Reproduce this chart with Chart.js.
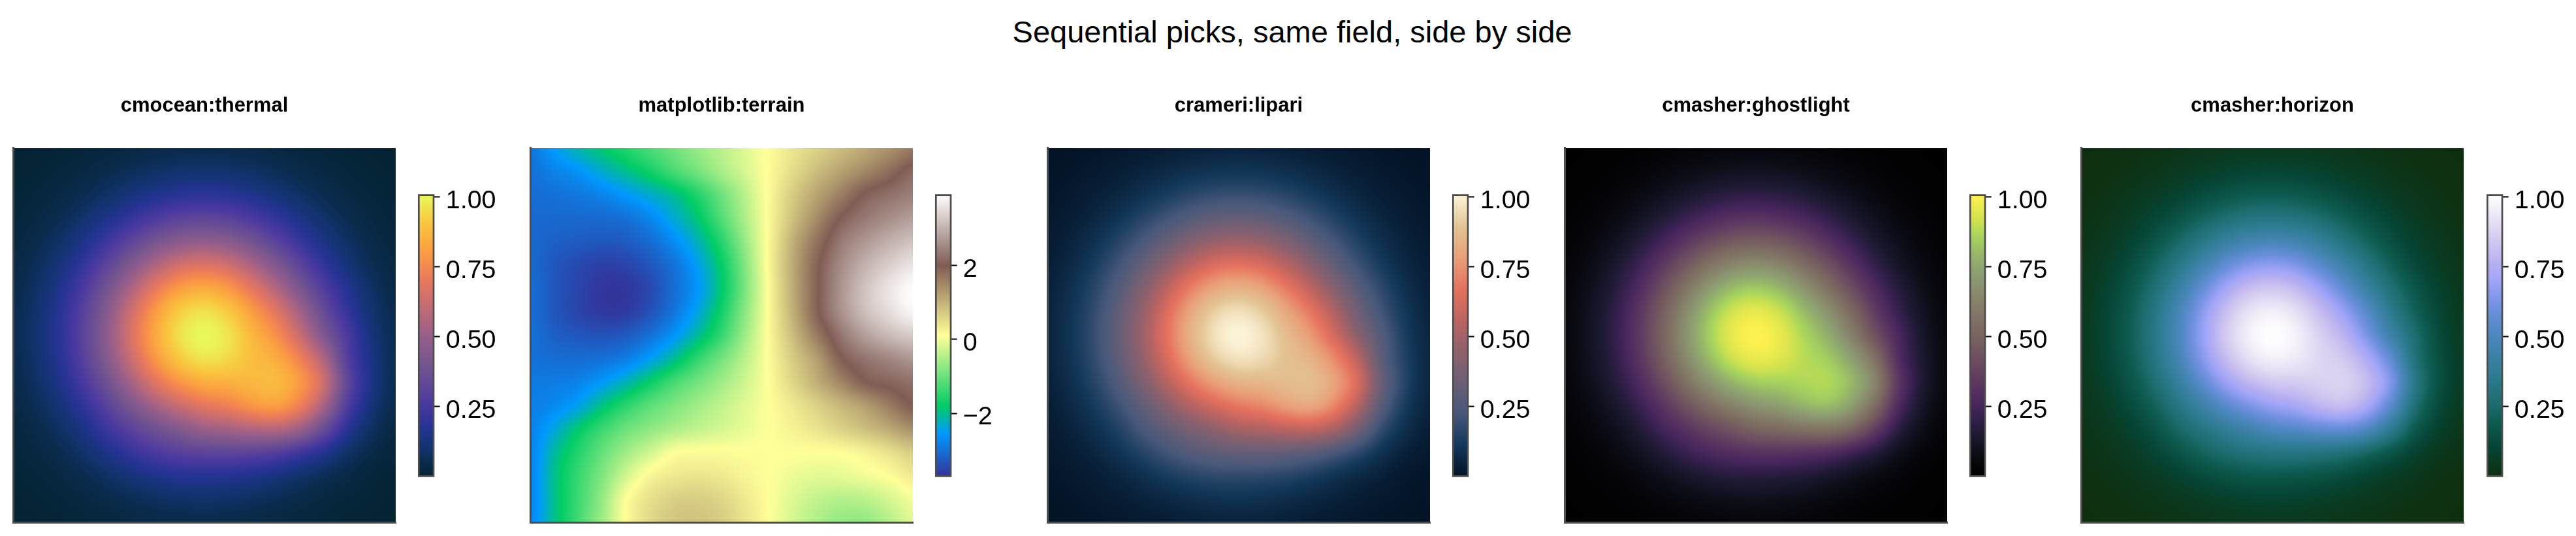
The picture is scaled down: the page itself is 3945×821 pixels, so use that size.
<!DOCTYPE html>
<html>
<head>
<meta charset="utf-8">
<title>Sequential picks, same field, side by side</title>
<script src="https://cdn.jsdelivr.net/npm/chart.js@4"></script>
<style>
  html, body { margin: 0; padding: 0; background: #fff; width: 3945px; height: 821px; overflow: hidden; }
  canvas { position: absolute; top: 0; }
  #suptitle { position: absolute; left: 1979px; top: 25px; transform: translateX(-50%); white-space: nowrap;
    font: 47px/47px "Liberation Sans", Arial, sans-serif; color: #000; }
</style>
</head>
<body>
<div id="suptitle">Sequential picks, same field, side by side</div>
<script>
// Positions of the field samples along each axis of a panel.
const gridNodes = [0, .0625, .125, .1875, .25, .3125, .375, .4375, .5, .5625, .625, .6875, .75, .8125, .875, .9375, 1];

// Normalised field shown by four of the panels (rows run top to bottom).
const unitField = [
  [.003,.006,.010,.017,.026,.036,.045,.051,.053,.050,.043,.034,.024,.016,.009,.005,.003],
  [.006,.011,.021,.034,.052,.071,.089,.102,.106,.101,.087,.068,.049,.032,.019,.010,.005],
  [.010,.021,.038,.062,.094,.130,.163,.186,.193,.183,.158,.124,.089,.058,.034,.019,.009],
  [.017,.034,.062,.104,.157,.216,.270,.309,.321,.304,.262,.206,.148,.096,.057,.031,.015],
  [.026,.052,.094,.157,.237,.326,.409,.466,.485,.460,.396,.311,.223,.145,.086,.047,.023],
  [.036,.071,.130,.216,.326,.449,.562,.642,.668,.633,.546,.436,.316,.205,.121,.064,.032],
  [.045,.089,.163,.270,.409,.562,.705,.805,.837,.794,.692,.565,.420,.281,.168,.088,.041],
  [.051,.102,.186,.309,.466,.642,.805,.920,.958,.911,.805,.685,.530,.352,.210,.108,.050],
  [.053,.106,.193,.321,.485,.668,.838,.958,1.003,.962,.868,.770,.620,.432,.260,.126,.057],
  [.050,.101,.183,.304,.460,.633,.794,.910,.962,.940,.885,.840,.730,.552,.288,.141,.060],
  [.043,.087,.158,.262,.396,.546,.685,.786,.843,.855,.868,.872,.793,.625,.325,.148,.059],
  [.034,.068,.124,.206,.312,.429,.539,.624,.689,.725,.782,.805,.720,.535,.274,.121,.050],
  [.024,.049,.089,.148,.235,.312,.385,.449,.507,.533,.563,.573,.510,.357,.181,.084,.034],
  [.016,.032,.058,.100,.155,.215,.265,.300,.318,.322,.313,.291,.237,.169,.093,.044,.019],
  [.009,.019,.034,.057,.090,.125,.155,.175,.177,.173,.160,.134,.101,.068,.042,.017,.008],
  [.005,.010,.019,.031,.047,.064,.081,.092,.096,.091,.079,.063,.046,.030,.018,.010,.005],
  [.003,.005,.009,.015,.023,.032,.040,.045,.047,.045,.038,.030,.022,.014,.008,.005,.002]
];

// Signed field shown by the terrain panel.
const terrainField = [
  [-2.95,-2.53,-2.15,-1.86,-1.55,-1.25,-.97,-.68,-.41,-.13,.14,.40,.65,.88,1.12,1.38,1.65],
  [-3.00,-2.80,-2.62,-2.30,-2.00,-1.68,-1.28,-.93,-.55,-.20,.15,.52,.88,1.20,1.50,1.80,2.15],
  [-3.05,-3.00,-2.92,-2.78,-2.56,-2.30,-2.00,-1.55,-.98,-.40,.17,.72,1.18,1.60,2.05,2.25,2.42],
  [-3.10,-3.10,-3.10,-3.08,-3.00,-2.75,-2.33,-1.86,-1.19,-.50,.18,.85,1.45,2.03,2.35,2.58,2.78],
  [-3.10,-3.20,-3.25,-3.30,-3.25,-3.05,-2.70,-2.20,-1.52,-.65,.20,1.05,1.75,2.35,2.70,2.98,3.20],
  [-3.10,-3.30,-3.45,-3.55,-3.50,-3.30,-2.98,-2.47,-1.76,-.80,.20,1.12,1.92,2.55,3.00,3.33,3.60],
  [-3.05,-3.30,-3.50,-3.66,-3.66,-3.45,-3.05,-2.58,-1.84,-.85,.17,1.10,1.95,2.65,3.20,3.60,3.88],
  [-3.05,-3.30,-3.50,-3.62,-3.60,-3.35,-2.95,-2.40,-1.65,-.75,.17,1.05,1.93,2.62,3.15,3.50,3.80],
  [-3.00,-3.20,-3.30,-3.35,-3.25,-3.00,-2.60,-2.05,-1.40,-.60,.17,.90,1.65,2.30,2.78,3.10,3.30],
  [-3.00,-3.05,-3.05,-3.00,-2.85,-2.50,-2.03,-1.45,-.94,-.40,.15,.72,1.25,1.97,2.30,2.50,2.70],
  [-2.90,-2.88,-2.80,-2.55,-2.20,-1.75,-1.30,-.95,-.60,-.25,.13,.59,1.05,1.52,1.97,2.12,2.25],
  [-2.85,-2.72,-2.45,-1.95,-1.50,-1.13,-.85,-.60,-.37,-.12,.11,.36,.65,.95,1.25,1.62,2.00],
  [-2.80,-2.38,-1.85,-1.38,-1.00,-.74,-.52,-.35,-.20,-.05,.10,.25,.42,.63,.85,1.10,1.40],
  [-2.80,-2.10,-1.55,-1.05,-.60,-.25,.08,.13,.13,.12,.105,.11,.10,.13,.25,.45,.70],
  [-2.80,-2.00,-1.40,-.85,-.25,.20,.35,.40,.35,.22,.10,-.03,-.10,-.08,.00,.12,.35],
  [-2.80,-2.00,-1.35,-.70,.08,.45,.65,.68,.58,.35,.10,-.15,-.35,-.45,-.40,-.22,.02],
  [-2.75,-2.00,-1.30,-.62,.12,.55,.78,.82,.70,.42,.10,-.22,-.50,-.68,-.70,-.45,-.12]
];

const panelTitles = ['cmocean:thermal', 'matplotlib:terrain', 'crameri:lipari', 'cmasher:ghostlight', 'cmasher:horizon'];
const unitTicks = [1, .75, .5, .25];
const terrainTicks = [2, 0, -2];

// Colour ramps as [position, colour] stops.
const thermalStops = [[0,'#042333'],[.05,'#0a2b4c'],[.1,'#12336e'],[.17,'#243392'],[.25,'#47389f'],[.3,'#59429b'],[.4,'#75558f'],[.5,'#985f8a'],[.6,'#c26b75'],[.7,'#e97a5c'],[.75,'#f58a4d'],[.8,'#fa9e41'],[.9,'#f9c63f'],[1,'#e8fa5b']];
const terrainStops = [[0,'#333399'],[.15,'#0099ff'],[.25,'#00cc66'],[.5,'#ffff99'],[.75,'#805c54'],[1,'#ffffff']];
const lipariStops = [[0,'#031326'],[.111,'#13385a'],[.222,'#47587a'],[.333,'#6b5f76'],[.444,'#8e616c'],[.556,'#bc6461'],[.667,'#e5715e'],[.778,'#e9a079'],[.889,'#e3c494'],[1,'#fdf5da']];
const ghostlightStops = [[0,'#000000'],[.05,'#07070c'],[.1,'#111120'],[.15,'#1e1a33'],[.2,'#321f4a'],[.25,'#46265c'],[.3,'#55305f'],[.35,'#5f3c60'],[.4,'#6a4a60'],[.5,'#796460'],[.6,'#847c68'],[.7,'#8c9870'],[.75,'#90a86f'],[.8,'#9abb66'],[.85,'#a5d35f'],[.9,'#c8e050'],[.95,'#e6e84e'],[1,'#fff24f']];
const horizonStops = [[0,'#0e2f0e'],[.1,'#064433'],[.2,'#0f5e54'],[.25,'#1c6b6c'],[.35,'#2b7b8e'],[.5,'#4c87bd'],[.6,'#6f90e0'],[.7,'#a2a5f8'],[.75,'#b4aef0'],[.85,'#d6ccf0'],[.95,'#f2eef8'],[1,'#ffffff']];

const panels = [
  { field: unitField, stops: thermalStops, min: .002, max: 1.006, ticks: unitTicks, digits: 2, plotLeft: 20.4, barLeft: 640 },
  { field: terrainField, stops: terrainStops, min: -3.7, max: 3.91, ticks: terrainTicks, digits: 0, plotLeft: 812.2, barLeft: 1432 },
  { field: unitField, stops: lipariStops, min: .002, max: 1.006, ticks: unitTicks, digits: 2, plotLeft: 1603.9, barLeft: 2224 },
  { field: unitField, stops: ghostlightStops, min: .002, max: 1.006, ticks: unitTicks, digits: 2, plotLeft: 2395.6, barLeft: 3015.5 },
  { field: unitField, stops: horizonStops, min: .002, max: 1.006, ticks: unitTicks, digits: 2, plotLeft: 3187.3, barLeft: 3807.5 }
];

const SPINE = '#4d4d4d';
const FONT = '"Liberation Sans", Arial, sans-serif';
Chart.defaults.animation = false;
Chart.defaults.responsive = false;
Chart.defaults.font.family = FONT;

function makeLut(stops) {
  const rgb = stops.map(([p, c]) => [p, parseInt(c.slice(1, 3), 16), parseInt(c.slice(3, 5), 16), parseInt(c.slice(5, 7), 16)]);
  const lut = new Uint8ClampedArray(1024 * 3);
  for (let i = 0, s = 0; i < 1024; i++) {
    const t = i / 1023;
    while (s < rgb.length - 2 && t > rgb[s + 1][0]) s++;
    const a = rgb[s], b = rgb[s + 1], f = (t - a[0]) / (b[0] - a[0]);
    for (let k = 0; k < 3; k++) lut[i * 3 + k] = a[k + 1] + (b[k + 1] - a[k + 1]) * f;
  }
  return lut;
}

function cubic(p0, p1, p2, p3, f) {
  return p1 + .5 * f * (p2 - p0 + f * (2 * p0 - 5 * p1 + 4 * p2 - p3 + f * (3 * (p1 - p2) + p3 - p0)));
}

// Smooth image-style lookup of the field at a continuous axis position.
function sampleField(field, u, v) {
  const n = gridNodes.length - 1;
  const gx = Math.min(n, Math.max(0, u * n)), gy = Math.min(n, Math.max(0, v * n));
  const ix = Math.min(n - 1, Math.floor(gx)), iy = Math.min(n - 1, Math.floor(gy));
  const fx = gx - ix, fy = gy - iy;
  const at = (r, c) => field[Math.max(0, Math.min(n, r))][Math.max(0, Math.min(n, c))];
  const row = r => cubic(at(r, ix - 1), at(r, ix), at(r, ix + 1), at(r, ix + 2), fx);
  return cubic(row(iy - 1), row(iy), row(iy + 1), row(iy + 2), fy);
}

// Paints the field into the plot area through the chart's x and y scales.
const fieldPainter = {
  id: 'fieldPainter',
  beforeDatasetsDraw(chart, args, opts) {
    const { left, top, right, bottom } = chart.chartArea;
    const { x, y } = chart.scales;
    const w = Math.round(right - left), h = Math.round(bottom - top);
    const off = document.createElement('canvas');
    off.width = w; off.height = h;
    const octx = off.getContext('2d');
    const img = octx.createImageData(w, h);
    const lut = makeLut(opts.stops);
    for (let py = 0, o = 0; py < h; py++) {
      const v = y.getValueForPixel(top + py + .5);
      for (let px = 0; px < w; px++, o += 4) {
        const val = sampleField(opts.field, x.getValueForPixel(left + px + .5), v);
        const t = Math.max(0, Math.min(1, (val - opts.min) / (opts.max - opts.min)));
        const i = Math.round(t * 1023) * 3;
        img.data[o] = lut[i]; img.data[o + 1] = lut[i + 1]; img.data[o + 2] = lut[i + 2]; img.data[o + 3] = 255;
      }
    }
    octx.putImageData(img, 0, 0);
    chart.ctx.drawImage(off, left, top, right - left, bottom - top);
  }
};

// Colour bar fill, built once the value axis has its pixel range, plus its outline.
const barFrame = {
  id: 'barFrame',
  afterLayout(chart, args, opts) {
    const yScale = chart.scales.y;
    const g = chart.ctx.createLinearGradient(0, yScale.getPixelForValue(yScale.min), 0, yScale.getPixelForValue(yScale.max));
    opts.stops.forEach(([pos, col]) => g.addColorStop(pos, col));
    chart.data.datasets[0].backgroundColor = g;
  },
  afterDatasetsDraw(chart) {
    const { left, top, right, bottom } = chart.chartArea, c = chart.ctx;
    c.save();
    c.strokeStyle = SPINE; c.lineWidth = 2.7;
    c.strokeRect(left, top, right - left, bottom - top);
    c.restore();
  }
};

function addCanvas(left, width) {
  const cv = document.createElement('canvas');
  cv.width = Math.ceil(width); cv.height = 821;
  cv.style.left = left + 'px';
  document.body.appendChild(cv);
  return cv;
}

const PLOT_W = 585.2, PLOT_TOP = 226.5, PLOT_BOTTOM = 800.5;
const BAR_TOP = 298.7, BAR_BOTTOM = 729.3, BAR_W = 21.8;
const TITLE_TOP = 143.4, TITLE_H = 37.2;

panels.forEach((p, k) => {
  const pad = 10;
  const points = [];
  p.field.forEach((row, r) => row.forEach((val, c) => points.push({ x: gridNodes[c], y: gridNodes[r], v: val })));

  new Chart(addCanvas(p.plotLeft - pad, PLOT_W + 2 * pad), {
    type: 'scatter',
    data: { datasets: [{ data: points, pointRadius: 0 }] },
    plugins: [fieldPainter],
    options: {
      layout: { padding: { left: pad, right: pad, top: TITLE_TOP, bottom: 821 - PLOT_BOTTOM } },
      events: [],
      plugins: {
        legend: { display: false },
        tooltip: { enabled: false },
        title: {
          display: true, text: panelTitles[k], color: '#000',
          font: { size: 31, weight: 'bold', family: FONT },
          padding: { top: 0, bottom: PLOT_TOP - TITLE_TOP - TITLE_H }
        },
        fieldPainter: { field: p.field, stops: p.stops, min: p.min, max: p.max }
      },
      scales: {
        x: {
          type: 'linear', min: 0, max: 1,
          afterFit(s) { s.height = 0; },
          grid: { display: false }, ticks: { display: false },
          border: { display: true, color: SPINE, width: 3, z: 1 }
        },
        y: {
          type: 'linear', min: 0, max: 1, reverse: true,
          afterFit(s) { s.width = 0; },
          grid: { display: false }, ticks: { display: false },
          border: { display: true, color: SPINE, width: 3, z: 1 }
        }
      }
    }
  });

  const barPad = 5.3, axisW = 110;
  new Chart(addCanvas(p.barLeft + 1.3 - barPad, barPad + BAR_W + axisW), {
    type: 'bar',
    data: {
      labels: [''],
      datasets: [{ data: [[p.min, p.max]], categoryPercentage: 1, barPercentage: 1, borderWidth: 0, backgroundColor: '#000' }]
    },
    plugins: [barFrame],
    options: {
      layout: { padding: { left: barPad, right: 0, top: BAR_TOP, bottom: 821 - BAR_BOTTOM } },
      events: [],
      plugins: { legend: { display: false }, tooltip: { enabled: false }, barFrame: { stops: p.stops } },
      scales: {
        x: { display: false },
        y: {
          type: 'linear', position: 'right', min: p.min, max: p.max,
          afterFit(s) { s.width = axisW; },
          afterBuildTicks(s) { s.ticks = p.ticks.map(v => ({ value: v })); },
          border: { display: false },
          grid: { display: true, drawOnChartArea: false, drawTicks: true, tickLength: 9.7, tickColor: '#000', tickWidth: 2 },
          ticks: {
            autoSkip: false, padding: 9, color: '#000', labelOffset: 6.5,
            font: { size: 39.5, family: FONT },
            callback: v => Number(v).toFixed(p.digits).replace('-', '\u2212')
          }
        }
      }
    }
  });
});
</script>
</body>
</html>
